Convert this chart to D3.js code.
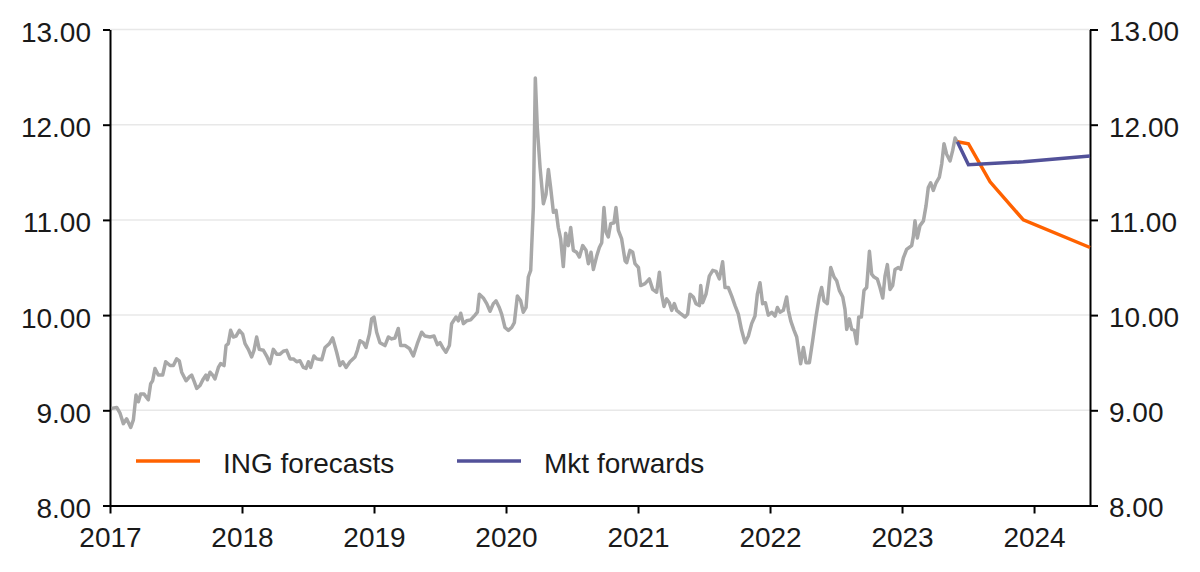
<!DOCTYPE html>
<html>
<head>
    <title>EUR/NOK - ING forecasts vs market forwards</title>
    <meta name="viewport" content="width=device-width, initial-scale=1.0">
    <script src="https://d3js.org/d3.v7.min.js"></script>
<style>
    html, body {
        margin: 0;
        padding: 0;
        background-color: white;
    }
    svg text {
        font-family: 'Liberation Sans', Arial, sans-serif;
        font-size: 28px;
        fill: #1a1a1a;
    }
</style>
</head>
<body>
<div id="chart"></div>
<script>

//DATA
// history, decimal years and levels
let histYears = [
    2017.013, 2017.051, 2017.076, 2017.101, 2017.126, 2017.157, 2017.177, 2017.197, 2017.215, 2017.232,
    2017.258, 2017.290, 2017.308, 2017.323, 2017.341, 2017.366, 2017.399, 2017.422, 2017.455, 2017.480,
    2017.505, 2017.525, 2017.543, 2017.576, 2017.601, 2017.619, 2017.636, 2017.657, 2017.682, 2017.707,
    2017.727, 2017.737, 2017.758, 2017.778, 2017.795, 2017.821, 2017.838, 2017.864, 2017.879, 2017.896,
    2017.914, 2017.934, 2017.955, 2017.980, 2018.005, 2018.023, 2018.048, 2018.073, 2018.091, 2018.111,
    2018.131, 2018.162, 2018.187, 2018.212, 2018.237, 2018.263, 2018.288, 2018.313, 2018.338, 2018.364,
    2018.389, 2018.414, 2018.439, 2018.465, 2018.485, 2018.503, 2018.520, 2018.545, 2018.566, 2018.604,
    2018.629, 2018.662, 2018.687, 2018.717, 2018.742, 2018.763, 2018.788, 2018.818, 2018.856, 2018.874,
    2018.894, 2018.919, 2018.939, 2018.965, 2018.982, 2019.000, 2019.020, 2019.045,
    2019.083, 2019.109, 2019.134, 2019.159, 2019.184, 2019.202, 2019.235, 2019.268, 2019.298, 2019.328,
    2019.361, 2019.386, 2019.424, 2019.455, 2019.480, 2019.500, 2019.520, 2019.545, 2019.571, 2019.588,
    2019.621, 2019.639, 2019.657, 2019.677, 2019.702, 2019.732, 2019.765, 2019.783, 2019.798, 2019.828,
    2019.854, 2019.879, 2019.904, 2019.924, 2019.949, 2019.967, 2019.992, 2020.018, 2020.043, 2020.063,
    2020.086, 2020.111, 2020.131, 2020.152, 2020.169, 2020.187, 2020.207, 2020.222, 2020.237, 2020.258,
    2020.283, 2020.303, 2020.321, 2020.338, 2020.359, 2020.379, 2020.396, 2020.414, 2020.434, 2020.452,
    2020.472, 2020.490, 2020.510, 2020.535, 2020.556, 2020.581, 2020.606, 2020.624, 2020.644, 2020.662,
    2020.687, 2020.707, 2020.725, 2020.742, 2020.758, 2020.775, 2020.793, 2020.818, 2020.833, 2020.851,
    2020.876, 2020.902, 2020.914, 2020.939, 2020.960, 2020.977, 2021.003,
    2021.020, 2021.053, 2021.086, 2021.111, 2021.141, 2021.162, 2021.179, 2021.197, 2021.217, 2021.237,
    2021.255, 2021.275, 2021.293, 2021.318, 2021.356, 2021.376, 2021.394, 2021.419, 2021.439, 2021.465,
    2021.475, 2021.490, 2021.515, 2021.540, 2021.566, 2021.591, 2021.616, 2021.641, 2021.659, 2021.684,
    2021.710, 2021.735, 2021.760, 2021.785, 2021.811, 2021.836, 2021.861, 2021.886, 2021.904, 2021.924,
    2021.944, 2021.965, 2021.987, 2022.013, 2022.038, 2022.056, 2022.076, 2022.101, 2022.126, 2022.139,
    2022.157, 2022.182, 2022.202, 2022.232, 2022.253, 2022.273, 2022.298, 2022.323, 2022.348, 2022.374,
    2022.391, 2022.409, 2022.434, 2022.460, 2022.485, 2022.505, 2022.525, 2022.551, 2022.568, 2022.581,
    2022.601, 2022.619, 2022.639, 2022.657, 2022.672, 2022.692, 2022.712, 2022.732, 2022.753, 2022.770,
    2022.788, 2022.813, 2022.833,
    2022.854, 2022.871, 2022.889, 2022.909, 2022.929, 2022.947, 2022.972, 2022.990, 2023.010, 2023.035,
    2023.073, 2023.086, 2023.098, 2023.116, 2023.136, 2023.162, 2023.182, 2023.199, 2023.217, 2023.237,
    2023.258, 2023.283, 2023.301, 2023.318, 2023.338, 2023.364, 2023.384, 2023.402, 2023.419
]
let histValues = [
    9.02, 9.03, 8.97, 8.86, 8.91, 8.82, 8.90, 9.16, 9.09, 9.17,
    9.17, 9.11, 9.28, 9.31, 9.44, 9.37, 9.37, 9.51, 9.47, 9.47,
    9.54, 9.52, 9.40, 9.31, 9.35, 9.37, 9.31, 9.23, 9.26, 9.33,
    9.37, 9.32, 9.40, 9.37, 9.33, 9.45, 9.49, 9.47, 9.68, 9.70,
    9.84, 9.77, 9.78, 9.84, 9.80, 9.70, 9.64, 9.56, 9.63, 9.77,
    9.64, 9.63, 9.57, 9.49, 9.64, 9.59, 9.59, 9.62, 9.63, 9.54,
    9.54, 9.51, 9.52, 9.45, 9.44, 9.51, 9.45, 9.57, 9.54, 9.53,
    9.66, 9.70, 9.76, 9.61, 9.47, 9.51, 9.45, 9.51, 9.56, 9.63,
    9.73, 9.71, 9.66, 9.80, 9.96, 9.98, 9.82, 9.71,
    9.68, 9.77, 9.75, 9.76, 9.86, 9.68, 9.68, 9.65, 9.57, 9.70,
    9.82, 9.78, 9.77, 9.78, 9.69, 9.71, 9.66, 9.61, 9.68, 9.91,
    9.98, 9.94, 10.02, 9.91, 9.94, 9.95, 10.00, 10.03, 10.22, 10.18,
    10.12, 10.04, 10.12, 10.15, 10.08, 10.01, 9.87, 9.84, 9.87, 9.92,
    10.20, 10.15, 10.03, 10.08, 10.40, 10.47, 11.13, 12.49, 11.97, 11.55,
    11.17, 11.27, 11.53, 11.34, 11.08, 11.10, 10.92, 10.80, 10.51, 10.86,
    10.73, 10.92, 10.68, 10.66, 10.61, 10.73, 10.68, 10.54, 10.66, 10.48,
    10.62, 10.71, 10.76, 11.13, 10.87, 10.82, 10.96, 10.97, 11.13, 10.89,
    10.80, 10.57, 10.55, 10.68, 10.66, 10.54, 10.50,
    10.31, 10.33, 10.38, 10.27, 10.24, 10.45, 10.22, 10.09, 10.17, 10.13,
    10.05, 10.12, 10.05, 10.02, 9.98, 10.01, 10.22, 10.19, 10.12, 10.10,
    10.31, 10.13, 10.22, 10.41, 10.47, 10.46, 10.38, 10.56, 10.29, 10.29,
    10.20, 10.10, 10.01, 9.84, 9.71, 9.78, 9.91, 9.99, 10.22, 10.34,
    10.12, 10.13, 10.00, 10.03, 9.99, 10.08, 10.03, 10.05, 10.19, 10.05,
    9.94, 9.84, 9.77, 9.49, 9.66, 9.50, 9.50, 9.73, 9.98, 10.20,
    10.29, 10.15, 10.12, 10.50, 10.40, 10.36, 10.26, 10.19, 10.06, 9.85,
    9.96, 9.85, 9.84, 9.70, 9.98, 9.98, 10.26, 10.29, 10.67, 10.43,
    10.40, 10.38, 10.29,
    10.18, 10.41, 10.53, 10.27, 10.31, 10.48, 10.50, 10.48, 10.60, 10.69,
    10.73, 10.83, 10.99, 10.81, 10.94, 10.99, 11.15, 11.34, 11.39, 11.31,
    11.39, 11.45, 11.59, 11.80, 11.69, 11.62, 11.73, 11.86, 11.82
]

let ingYears = [2023.419, 2023.503, 2023.667, 2023.919, 2024.424]
let ingValues = [11.82, 11.80, 11.40, 11.00, 10.71]

let fwdYears = [2023.419, 2023.503, 2023.919, 2024.424]
let fwdValues = [11.82, 11.58, 11.61, 11.67]

let xTicks = [2017, 2018, 2019, 2020, 2021, 2022, 2023, 2024]
let yTicks = [8, 9, 10, 11, 12, 13]

let legendNames = ['ING forecasts', 'Mkt forwards']
let legendColors = ['#FF6200', '#525199']

//LAYOUT
let W = 1200, H = 572
let m = {left: 110, right: 110, top: 29.5, bottom: 66.5}

let x = d3.scaleLinear().domain([2017, 2024.424]).range([m.left, W - m.right])
let y = d3.scaleLinear().domain([8, 13]).range([H - m.bottom, m.top])

let svg = d3.select('#chart').append('svg')
    .attr('width', W)
    .attr('height', H)

//GRID
svg.append('g')
    .selectAll('line')
    .data(yTicks.filter(d => d > 8))
    .join('line')
    .attr('x1', m.left)
    .attr('x2', W - m.right)
    .attr('y1', d => y(d))
    .attr('y2', d => y(d))
    .attr('stroke', '#e8e8e8')
    .attr('stroke-width', 1.5)

//AXES
function styleAxis(g){
    g.select('.domain').attr('stroke', '#000').attr('stroke-width', 2)
    g.selectAll('.tick line').attr('stroke', '#000').attr('stroke-width', 2)
    g.selectAll('.tick text').attr('fill', '#1a1a1a')
        .style('font-family', "'Liberation Sans', Arial, sans-serif").style('font-size', '28px')
}

svg.append('g')
    .attr('transform', 'translate(' + m.left + ',0)')
    .call(d3.axisLeft(y).tickValues(yTicks).tickFormat(d3.format('.2f')).tickSize(7).tickPadding(12).tickSizeOuter(0))
    .call(styleAxis)
    .call(g => g.selectAll('.tick text').attr('dy', '0.43em'))

svg.append('g')
    .attr('transform', 'translate(' + (W - m.right) + ',0)')
    .call(d3.axisRight(y).tickValues(yTicks).tickFormat(d3.format('.2f')).tickSize(8).tickPadding(11).tickSizeOuter(0))
    .call(styleAxis)
    .call(g => g.selectAll('.tick text').attr('dy', '0.41em'))

svg.append('g')
    .attr('transform', 'translate(0,' + (H - m.bottom) + ')')
    .call(d3.axisBottom(x).tickValues(xTicks).tickFormat(d3.format('d')).tickSize(8).tickPadding(14).tickSizeOuter(0))
    .call(styleAxis)
    .call(g => g.selectAll('.tick text').attr('dy', '0.71em'))

//LINES
let line = d3.line()
    .x(d => x(d[0]))
    .y(d => y(d[1]))

svg.append('path')
    .datum(d3.zip(histYears, histValues))
    .attr('d', line)
    .attr('fill', 'none')
    .attr('stroke', '#A8A8A8')
    .attr('stroke-width', 3.5)
    .attr('stroke-linejoin', 'round')

svg.append('path')
    .datum(d3.zip(ingYears, ingValues))
    .attr('d', line)
    .attr('fill', 'none')
    .attr('stroke', legendColors[0])
    .attr('stroke-width', 3.5)

svg.append('path')
    .datum(d3.zip(fwdYears, fwdValues))
    .attr('d', line)
    .attr('fill', 'none')
    .attr('stroke', legendColors[1])
    .attr('stroke-width', 3.5)

//LEGEND
let legX = [136, 457]
let leg = svg.append('g')
    .selectAll('g')
    .data(legendNames)
    .join('g')
    .attr('transform', (d, i) => 'translate(' + legX[i] + ',461)')

leg.append('line')
    .attr('x1', 0)
    .attr('x2', 64)
    .attr('stroke', (d, i) => legendColors[i])
    .attr('stroke-width', 3.5)

leg.append('text')
    .attr('x', 87)
    .attr('y', 12)
    .text(d => d)

</script>
</body>
</html>
